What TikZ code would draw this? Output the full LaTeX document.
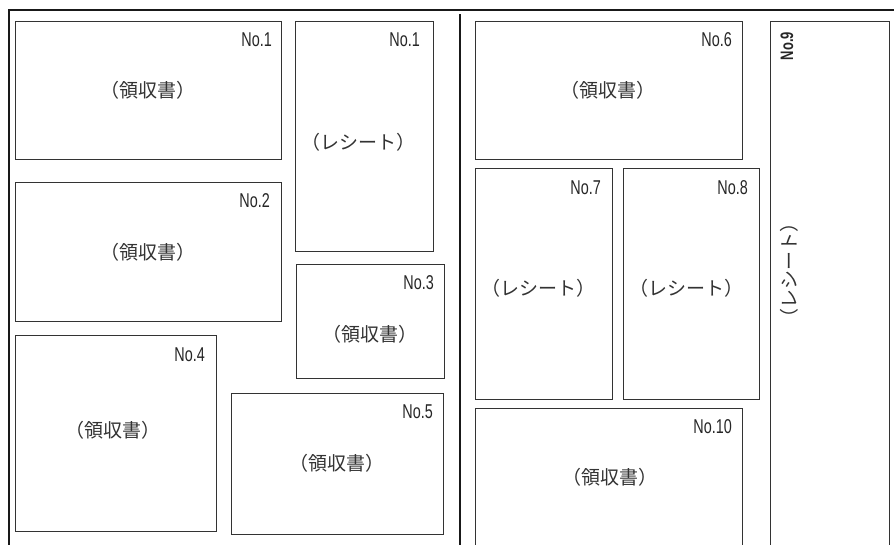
\documentclass[tikz,border=0pt]{standalone}
\usepackage{fontspec}
\usepackage{graphicx}
\setmainfont{Liberation Sans}
\newfontfamily\jpfont{Noto Sans CJK JP}
\begin{document}
\begin{tikzpicture}[x=1pt,y=-1pt,
  box/.style={draw=black!80, line width=1pt, inner sep=0pt, outer sep=0pt},
  frame/.style={draw=black!90, line width=2pt},
  num/.style={anchor=east, inner sep=0pt, font=\fontsize{20}{20}\selectfont, text=black!85},
  txt/.style={inner sep=0pt, font=\jpfont\fontsize{19}{19}\selectfont, text=black!80}]
\clip (0,0) rectangle (894,544);
\fill[white] (0,0) rectangle (894,544);
% outer frame and divider
\coordinate (fbl) at (9,560);
\coordinate (ftl) at (9,10);
\coordinate (ftr) at (900,10);
\coordinate (dtop) at (460,14);
\coordinate (dbot) at (460,560);
\draw[frame] (fbl) -- (ftl) -- (ftr);
\draw[frame] (dtop) -- (dbot);
% boxes
\node[box, minimum width=266pt, minimum height=138pt] (b1) at (148,90) {};
\node[box, minimum width=138pt, minimum height=230pt] (r1) at (364,136) {};
\node[box, minimum width=266pt, minimum height=139pt] (b2) at (148,251.5) {};
\node[box, minimum width=148pt, minimum height=114pt] (b3) at (370,321) {};
\node[box, minimum width=201pt, minimum height=196pt] (b4) at (115.5,433) {};
\node[box, minimum width=212pt, minimum height=141pt] (b5) at (337,463.5) {};
\node[box, minimum width=267pt, minimum height=138pt] (b6) at (608.5,90) {};
\node[box, minimum width=137pt, minimum height=231pt] (r7) at (543.5,283.5) {};
\node[box, minimum width=136pt, minimum height=231pt] (r8) at (691,283.5) {};
\node[box, minimum width=119pt, minimum height=559pt] (r9) at (829.5,300.5) {};
\node[box, minimum width=267pt, minimum height=172pt] (b10) at (608.5,494) {};
% number labels
\node[num] (n1) at ([xshift=-9pt,yshift=-19pt]b1.north east) {\scalebox{0.72}[1]{No.1}};
\node[num] (n1r) at ([xshift=-13pt,yshift=-19pt]r1.north east) {\scalebox{0.72}[1]{No.1}};
\node[num] (n2) at ([xshift=-11pt,yshift=-19pt]b2.north east) {\scalebox{0.72}[1]{No.2}};
\node[num] (n3) at ([xshift=-10pt,yshift=-19pt]b3.north east) {\scalebox{0.72}[1]{No.3}};
\node[num] (n4) at ([xshift=-11pt,yshift=-20pt]b4.north east) {\scalebox{0.72}[1]{No.4}};
\node[num] (n5) at ([xshift=-10pt,yshift=-19pt]b5.north east) {\scalebox{0.72}[1]{No.5}};
\node[num] (n6) at ([xshift=-10pt,yshift=-19pt]b6.north east) {\scalebox{0.72}[1]{No.6}};
\node[num] (n7) at ([xshift=-11pt,yshift=-20pt]r7.north east) {\scalebox{0.72}[1]{No.7}};
\node[num] (n8) at ([xshift=-11pt,yshift=-20pt]r8.north east) {\scalebox{0.72}[1]{No.8}};
\node[num] (n10) at ([xshift=-10pt,yshift=-19pt]b10.north east) {\scalebox{0.72}[1]{No.10}};
\node[num, anchor=center, rotate=90, font=\bfseries\fontsize{18}{18}\selectfont] (n9) at (787,46) {\scalebox{0.72}[1]{No.9}};
% texts
\node[txt] (t1) at (148,90) {（領収書）};
\node[txt] (t1r) at (358,142) {（レシート）};
\node[txt] (t2) at (148,252) {（領収書）};
\node[txt] (t3) at (370,334) {（領収書）};
\node[txt] (t4) at (113,430) {（領収書）};
\node[txt] (t5) at (337,463) {（領収書）};
\node[txt] (t6) at (608,90) {（領収書）};
\node[txt] (t7) at (538,288) {（レシート）};
\node[txt] (t8) at (686,288) {（レシート）};
\node[txt, rotate=90] (t9) at (789,270) {（レシート）};
\node[txt] (t10) at (610,477) {（領収書）};
\end{tikzpicture}
\end{document}
